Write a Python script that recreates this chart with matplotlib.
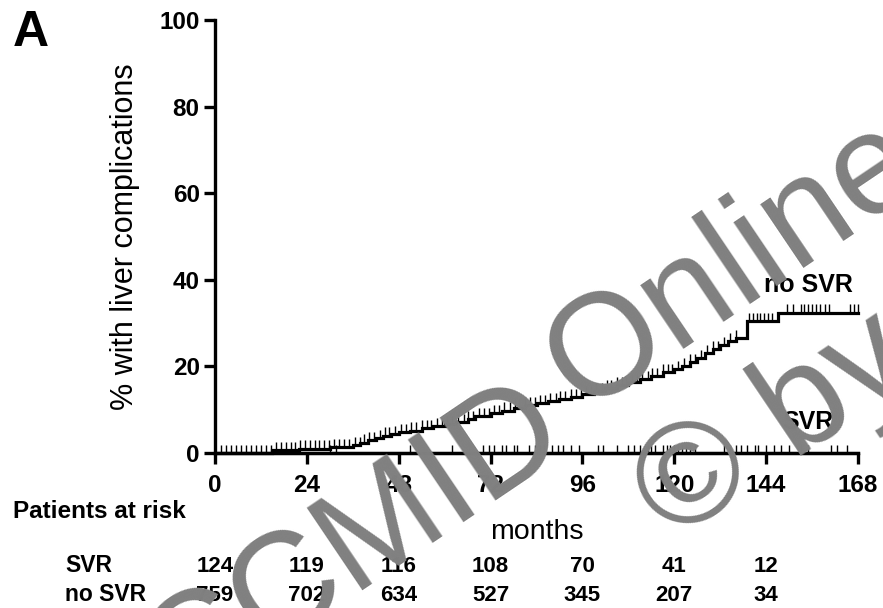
import numpy as np
import matplotlib
matplotlib.use("Agg")
import matplotlib.pyplot as plt
from matplotlib.transforms import blended_transform_factory

plt.rcParams["font.family"] = ["Liberation Sans", "DejaVu Sans"]

# cumulative incidence (%) of liver complications, step after each time (months)
nosvr_times = [0, 15, 22, 30, 36, 38, 40, 42, 44, 46, 48, 51, 54, 57, 60, 63, 66, 68, 72, 75, 78, 81,
               84, 87, 90, 93, 96, 99, 102, 105, 108, 111, 114, 117, 120, 122, 124, 126, 128, 130,
               132, 134, 136, 139, 147]
nosvr_pct = [0, 0.6, 1.0, 1.3, 1.8, 2.4, 3.0, 3.5, 4.0, 4.4, 4.8, 5.2, 5.7, 6.2, 6.6, 7.2, 7.9, 8.5,
             9.2, 9.8, 10.5, 11.0, 11.5, 12.0, 12.5, 13.0, 13.6, 14.3, 15.0, 15.7, 16.4, 17.0, 17.8,
             18.6, 19.3, 20.0, 21.0, 22.0, 23.0, 24.0, 25.0, 25.8, 26.5, 30.5, 32.4]
svr_times = [0]
svr_pct = [0]

nosvr_censor = [1.5, 2.8, 4.1, 5.4, 6.8, 8.0, 9.3, 10.6, 12.0, 13.3, 14.6, 16.0, 17.2, 18.5, 19.8,
                21.0, 22.3, 23.5, 24.8, 26.0, 27.2, 28.5, 29.8, 31.0, 32.5, 33.8, 35.0, 36.5, 37.8,
                39.0, 40.2, 41.5, 43.0, 44.3, 45.5, 47.0, 48.5, 50.0, 51.3, 52.6, 54.0, 55.3, 56.5,
                58.0, 59.3, 60.5, 62.0, 63.5, 65.0, 66.2, 67.5, 69.0, 70.3, 71.5, 73.0, 74.2, 75.5,
                77.0, 78.3, 79.5, 81.0, 82.3, 83.6, 85.0, 86.3, 87.5, 89.0, 90.2, 91.5, 93.0, 94.3,
                95.5, 97.0, 98.2, 99.5, 101.0, 102.3, 103.5, 105.0, 106.3, 107.5, 109.0, 110.3,
                111.5, 113.0, 114.2, 115.5, 117.0, 118.3, 119.5, 121.0, 122.5, 124.0, 125.5, 127.0,
                128.5, 130.0, 131.5, 133.0, 134.5, 136.0, 139.5, 140.5, 141.5, 142.5, 143.5, 144.5,
                145.5, 149.5, 151.0, 153.0, 154.0, 155.0, 156.0, 157.0, 158.0, 159.3, 160.3, 166.0,
                167.0, 168.0]
svr_censor = [30, 31.5, 51, 62, 70, 71.5, 73, 75, 76, 78, 79, 82, 83.5, 85, 86, 88, 89.5, 91, 93, 95,
              100, 101.5, 105, 108, 109.5, 111, 113, 114, 115, 117, 118, 119, 120, 121, 122, 123,
              124, 125.5, 133, 134.5, 136, 137.5, 139, 141, 142, 144, 146, 148, 150, 153, 155, 161,
              162.5, 165]

risk_months = [0, 24, 48, 72, 96, 120, 144]
risk_svr = [124, 119, 116, 108, 70, 41, 12]
risk_nosvr = [759, 702, 634, 527, 345, 207, 34]
xticks = [0, 24, 48, 72, 96, 120, 144, 168]
yticks = [0, 20, 40, 60, 80, 100]


def step_value(times, pct, t):
    idx = np.searchsorted(times, t, side="right") - 1
    return np.asarray(pct)[idx]


fig = plt.figure(figsize=(8.83, 6.08), dpi=100)
ax = fig.add_axes([0.2435, 0.2549, 0.7282, 0.7122])

for times, pct, cens in [(nosvr_times, nosvr_pct, nosvr_censor), (svr_times, svr_pct, svr_censor)]:
    ax.step(np.append(times, 168), np.append(pct, pct[-1]), where="post", color="black", lw=2.3,
            solid_joinstyle="miter", clip_on=False, zorder=3)
    yc = step_value(times, pct, np.asarray(cens))
    ax.vlines(cens, yc, yc + 1.9, color="black", lw=1.0, clip_on=False, zorder=3)

ax.set_xlim(0, 168)
ax.set_ylim(0, 100)
ax.set_xticks(xticks)
ax.set_yticks(yticks)
for s in ["top", "right"]:
    ax.spines[s].set_visible(False)
for s in ["left", "bottom"]:
    ax.spines[s].set_linewidth(2.4)
ax.tick_params(direction="out", length=8, width=2.4, labelsize=17.5, pad=3)
ax.tick_params(axis="x", pad=7)
for lab in ax.get_xticklabels() + ax.get_yticklabels():
    lab.set_fontweight("bold")
ax.set_ylabel("% with liver complications", fontsize=22, labelpad=14)
ax.set_xlabel("months", fontsize=20.5, labelpad=16)

ax.text(155, 38.8, "no SVR", fontsize=18, fontweight="bold", ha="center", va="center")
ax.text(155, 7.2, "SVR", fontsize=18, fontweight="bold", ha="center", va="center")

fig.text(13 / 883, 1 - 46 / 608, "A", fontsize=36, fontweight="bold", va="baseline")
fig.text(13 / 883, 1 - 518 / 608, "Patients at risk", fontsize=17.5, fontweight="bold", va="baseline")

tr = blended_transform_factory(ax.transData, fig.transFigure)
fig.text(65 / 883, 1 - 572 / 608, "SVR", fontsize=16.5, fontweight="bold", va="baseline")
fig.text(65 / 883, 1 - 601 / 608, "no SVR", fontsize=16.5, fontweight="bold", va="baseline")
for m, a, b in zip(risk_months, risk_svr, risk_nosvr):
    ax.text(m, 1 - 572 / 608, str(a), transform=tr, fontsize=16, fontweight="bold",
            ha="center", va="baseline")
    ax.text(m, 1 - 601 / 608, str(b), transform=tr, fontsize=16, fontweight="bold",
            ha="center", va="baseline")

# watermark drawn over the chart
wm = dict(fontsize=104, color="#808080", rotation=34, rotation_mode="anchor",
          ha="left", va="baseline", zorder=10)
fig.text(179 / 883, 1 - 709 / 608, "CCMID", **wm)
fig.text(582 / 883, 1 - 413 / 608, "Online", **wm)
fig.text(672 / 883, 1 - 543 / 608, "\u00a9 by", **wm)

fig.savefig("out.png", dpi=100)
